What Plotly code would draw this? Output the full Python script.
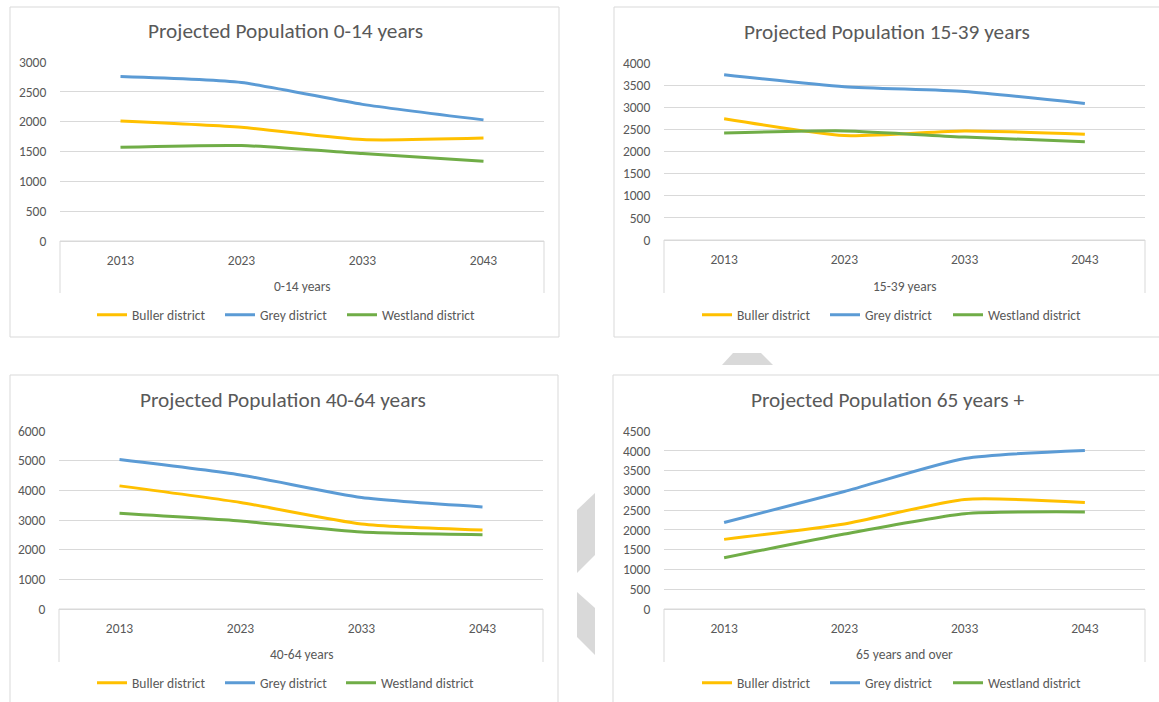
import plotly.graph_objects as go

# ---- data -------------------------------------------------------------
years = ["2013", "2023", "2033", "2043"]
districts = ["Buller district", "Grey district", "Westland district"]

buller_0_14 = [2010, 1905, 1700, 1725]
grey_0_14 = [2755, 2655, 2290, 2030]
westland_0_14 = [1570, 1600, 1465, 1335]

buller_15_39 = [2740, 2360, 2465, 2390]
grey_15_39 = [3735, 3465, 3355, 3085]
westland_15_39 = [2420, 2465, 2325, 2220]

buller_40_64 = [4150, 3590, 2865, 2660]
grey_40_64 = [5040, 4520, 3755, 3440]
westland_40_64 = [3225, 2965, 2595, 2505]

buller_65 = [1760, 2150, 2770, 2690]
grey_65 = [2185, 2970, 3805, 4010]
westland_65 = [1295, 1895, 2410, 2455]

titles = ["Projected Population 0-14 years", "Projected Population 15-39 years",
          "Projected Population 40-64 years", "Projected Population 65 years +"]
axis_titles = ["0-14 years", "15-39 years", "40-64 years", "65 years and over"]
y_max = [3000, 4000, 6000, 4500]
y_step = [500, 500, 1000, 500]

panel_series = [
    [buller_0_14, grey_0_14, westland_0_14],
    [buller_15_39, grey_15_39, westland_15_39],
    [buller_40_64, grey_40_64, westland_40_64],
    [buller_65, grey_65, westland_65],
]

# ---- styling ----------------------------------------------------------
W, H = 1159, 702
FONT = "Calibri, Carlito, Lato, sans-serif"
TEXT = "#595959"
GRID = "#D9D9D9"
SMALL = 13.5
colors = ["#FFC000", "#5B9BD5", "#70AD47"]

# pixel geometry of each panel: plot area (x0, x1, ytop, ybottom),
# box bottom, panel frame, text centres and left edges of the two legend groups
panels = [
    dict(px=(60, 544), py=(62, 241), box=293, frame=(10, 559, 7, 337), tx=285, ty=31, ay=286, ly=315, lx=(92, 342)),
    dict(px=(664, 1145), py=(63, 240), box=293, frame=(614, 1165, 7, 337), tx=887, ty=32, ay=286, ly=315, lx=(697, 948)),
    dict(px=(59, 543), py=(431, 609), box=662, frame=(10, 558, 375, 710), tx=283, ty=400, ay=654, ly=683, lx=(92, 341)),
    dict(px=(664, 1145), py=(431, 609), box=662, frame=(613, 1165, 375, 710), tx=887, ty=400, ay=654, ly=683, lx=(697, 948)),
]


def fx(p):
    return p / W


def fy(p):
    return 1 - p / H


fig = go.Figure()
layout = dict(
    width=W, height=H,
    margin=dict(l=0, r=0, t=0, b=0, autoexpand=False),
    paper_bgcolor="white", plot_bgcolor="white",
    font=dict(family=FONT, color=TEXT, size=12),
    showlegend=True,
    shapes=[], annotations=[],
)

for i, pan in enumerate(panels):
    n = "" if i == 0 else str(i + 1)
    xa, ya = "x" + n, "y" + n
    # two legend groups per panel: first two districts, then the third
    leg_a = "legend" if i == 0 else f"legend{2 * i + 1}"
    leg_b = f"legend{2 * i + 2}"

    for k, (d, vals, c) in enumerate(zip(districts, panel_series[i], colors)):
        fig.add_trace(go.Scatter(
            x=years, y=vals, name=d, mode="lines",
            line=dict(color=c, width=3, shape="spline", smoothing=0.6),
            xaxis=xa, yaxis=ya, legend=leg_a if k < 2 else leg_b,
            hoverinfo="x+y+name",
        ))

    layout["xaxis" + n] = dict(
        domain=[fx(pan["px"][0]), fx(pan["px"][1])], anchor=ya,
        type="category", range=[-0.5, 3.5],
        showgrid=False, zeroline=False, showline=True, linecolor=GRID, linewidth=1,
        ticks="outside", ticklen=7, tickcolor="rgba(0,0,0,0)",
        tickfont=dict(family=FONT, size=SMALL, color=TEXT), fixedrange=True,
    )
    layout["yaxis" + n] = dict(
        domain=[fy(pan["py"][1]), fy(pan["py"][0])], anchor=xa,
        range=[0, y_max[i]], dtick=y_step[i], tick0=0,
        showgrid=True, gridcolor=GRID, gridwidth=1, zeroline=False, showline=False,
        ticks="outside", ticklen=10, tickcolor="rgba(0,0,0,0)",
        tickfont=dict(family=FONT, size=SMALL, color=TEXT), fixedrange=True,
    )
    common = dict(
        orientation="h", xanchor="left", y=fy(pan["ly"]), yanchor="middle",
        bgcolor="rgba(0,0,0,0)", font=dict(family=FONT, size=SMALL, color=TEXT),
    )
    layout[leg_a] = dict(common, x=fx(pan["lx"][0]), entrywidth=83, entrywidthmode="pixels")
    layout[leg_b] = dict(common, x=fx(pan["lx"][1]))

    # panel frame
    f = pan["frame"]
    layout["shapes"].append(dict(
        type="rect", xref="paper", yref="paper", layer="below",
        x0=fx(f[0]), x1=fx(f[1]), y0=fy(f[3]), y1=fy(f[2]),
        line=dict(color=GRID, width=1), fillcolor="rgba(0,0,0,0)",
    ))
    # open box under the category axis
    x0, x1 = fx(pan["px"][0]), fx(pan["px"][1])
    yb, yt = fy(pan["box"]), fy(pan["py"][1])
    layout["shapes"].append(dict(
        type="path", xref="paper", yref="paper",
        path=f"M {x0} {yb} L {x0} {yt} L {x1} {yt} L {x1} {yb}",
        line=dict(color=GRID, width=1),
    ))
    # chart title and category axis title
    layout["annotations"].append(dict(
        text=titles[i], xref="paper", yref="paper", x=fx(pan["tx"]), y=fy(pan["ty"]),
        xanchor="center", yanchor="middle", showarrow=False,
        font=dict(family=FONT, size=21.3, color=TEXT),
    ))
    layout["annotations"].append(dict(
        text=axis_titles[i], xref="paper", yref="paper",
        x=(x0 + x1) / 2, y=fy(pan["ay"]),
        xanchor="center", yanchor="middle", showarrow=False,
        font=dict(family=FONT, size=SMALL, color=TEXT),
    ))

# light grey navigation arrows between the panels
deco = "#D9D9D9"
for pts in [
    [(722, 365), (733, 353), (761, 353), (773, 365)],
    [(577, 510), (595, 493), (595, 555), (577, 573)],
    [(577, 592), (595, 608), (595, 655), (577, 637)],
]:
    path = "M " + " L ".join(f"{fx(a)} {fy(b)}" for a, b in pts) + " Z"
    layout["shapes"].append(dict(
        type="path", xref="paper", yref="paper", path=path,
        fillcolor=deco, line=dict(width=0), layer="below",
    ))

fig.update_layout(**layout)
fig.write_html("out.html")
